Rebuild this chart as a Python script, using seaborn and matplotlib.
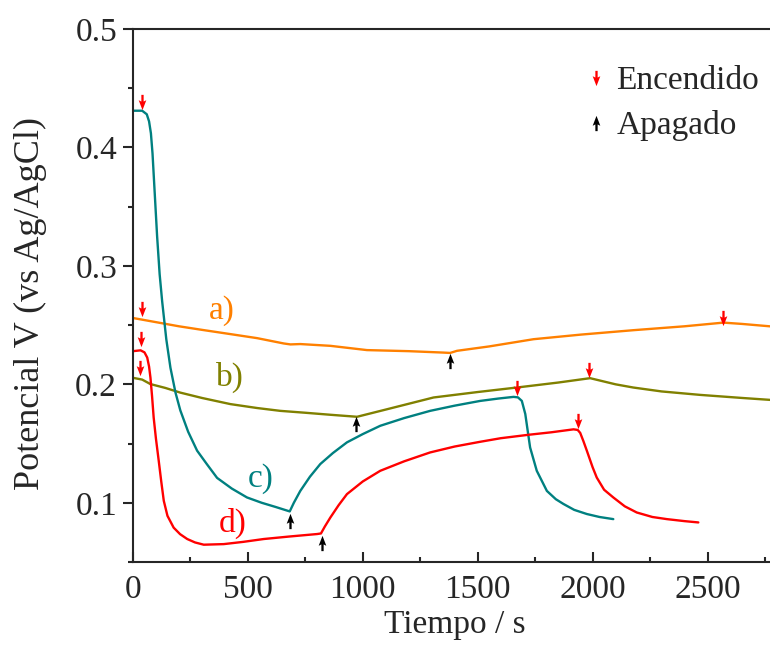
import numpy as np
import pandas as pd
import matplotlib
matplotlib.use("Agg")
import matplotlib.pyplot as plt
from matplotlib.path import Path
from matplotlib.lines import Line2D
import seaborn as sns

# ---------------- data ----------------
orange_t = [0, 100, 200, 300, 424, 540, 656, 685, 728, 859, 1018, 1200, 1351, 1380, 1410,
            1550, 1743, 1950, 2177, 2400, 2569, 2650, 2800]
orange_v = [0.256, 0.2525, 0.249, 0.246, 0.2424, 0.239, 0.2345, 0.2337, 0.234, 0.2325, 0.2289,
            0.228, 0.2268, 0.2265, 0.2283, 0.232, 0.2381, 0.242, 0.2457, 0.249, 0.2521, 0.251, 0.2485]

olive_t = [0, 40, 76, 140, 206, 300, 424, 540, 641, 750, 859, 975, 1100, 1308, 1500, 1670,
           1850, 1989, 2100, 2177, 2300, 2467, 2650, 2800]
olive_v = [0.2055, 0.204, 0.2002, 0.197, 0.193, 0.1885, 0.1833, 0.180, 0.1776, 0.176, 0.1743,
           0.1726, 0.1787, 0.1889, 0.1935, 0.1973, 0.2015, 0.2052, 0.200, 0.1973, 0.194, 0.1911,
           0.1885, 0.1865]

teal_t = [0, 40, 60, 70, 78, 85, 95, 105, 116, 127, 145, 163, 185, 206, 240, 279, 320, 366,
          430, 496, 560, 620, 682, 700, 728, 770, 815, 870, 931, 1000, 1076, 1180, 1293, 1400,
          1511, 1590, 1656, 1675, 1692, 1707, 1728, 1757, 1801, 1840, 1873, 1920, 1975, 2030, 2090]
teal_v = [0.431, 0.431, 0.428, 0.422, 0.412, 0.395, 0.36, 0.325, 0.293, 0.270, 0.238, 0.214,
          0.193, 0.178, 0.160, 0.144, 0.133, 0.121, 0.112, 0.1045, 0.100, 0.0965, 0.0927, 0.100,
          0.110, 0.122, 0.1327, 0.142, 0.151, 0.158, 0.165, 0.1715, 0.1776, 0.182, 0.186, 0.188,
          0.1894, 0.189, 0.186, 0.175, 0.1467, 0.127, 0.110, 0.103, 0.099, 0.094, 0.0905, 0.088,
          0.0862]

red_t = [0, 33, 50, 62, 70, 76, 83, 90, 100, 112, 123, 134, 150, 177, 205, 236, 270, 308, 395,
         480, 569, 680, 801, 818, 835, 859, 895, 931, 1000, 1076, 1180, 1293, 1400, 1511, 1600,
         1721, 1820, 1917, 1935, 1946, 1960, 1975, 2000, 2018, 2050, 2090, 2140, 2192, 2260,
         2323, 2400, 2460]
red_v = [0.228, 0.2287, 0.227, 0.2226, 0.215, 0.2057, 0.19, 0.172, 0.154, 0.1355, 0.118, 0.1017,
         0.089, 0.079, 0.0735, 0.0694, 0.0665, 0.0646, 0.0651, 0.067, 0.0694, 0.0715, 0.0736,
         0.0741, 0.080, 0.0876, 0.098, 0.1073, 0.118, 0.127, 0.135, 0.1425, 0.1475, 0.1515,
         0.1545, 0.1574, 0.1595, 0.162, 0.1615, 0.159, 0.152, 0.1439, 0.130, 0.1213, 0.111,
         0.1045, 0.097, 0.0918, 0.088, 0.0862, 0.0845, 0.0834]

# switching markers
enc_t = [40, 40, 33, 30, 1670, 1938, 1986, 2569]
enc_v = [0.438, 0.2637, 0.2384, 0.214, 0.1968, 0.169, 0.2122, 0.2557]
apa_t = [682, 822, 972, 1380]
apa_v = [0.0842, 0.0657, 0.1664, 0.220]

# curve labels
lab_text = ["a)", "b)", "c)", "d)"]
lab_t = [385, 420, 554, 433]
lab_v = [0.262, 0.2055, 0.120, 0.0822]

x_ticks = [0, 500, 1000, 1500, 2000, 2500]
y_ticks = [0.1, 0.2, 0.3, 0.4, 0.5]

# ---------------- style ----------------
sns.set_style("ticks")
plt.rcParams["font.family"] = ["Liberation Serif", "DejaVu Serif"]
plt.rcParams["axes.linewidth"] = 1.5

c_orange = "#FF8000"
c_olive = "#808000"
c_teal = "#008080"
c_red = "#FF0000"

FS = 24

def arrow_marker(up=False):
    verts = [(0, -1), (-0.5, 0.3), (-0.15, 0.12), (-0.15, 1.0), (0.15, 1.0),
             (0.15, 0.12), (0.5, 0.3), (0, -1)]
    if up:
        verts = [(x, -y) for x, y in verts]
    codes = [Path.MOVETO] + [Path.LINETO] * (len(verts) - 2) + [Path.CLOSEPOLY]
    return Path(verts, codes)

m_down = arrow_marker(False)
m_up = arrow_marker(True)
MS = 11

fig = plt.figure(figsize=(7.7, 6.56), dpi=100)
ax = fig.add_axes([0.1727, 0.1433, 1.0084 - 0.1727, 0.9558 - 0.1433])

series = [(orange_t, orange_v, c_orange), (olive_t, olive_v, c_olive),
          (teal_t, teal_v, c_teal), (red_t, red_v, c_red)]
for t, v, c in series:
    df = pd.DataFrame({"t": t, "v": v})
    sns.lineplot(data=df, x="t", y="v", ax=ax, color=c, linewidth=1.7, estimator=None)

df_enc = pd.DataFrame({"t": enc_t, "v": enc_v})
df_apa = pd.DataFrame({"t": apa_t, "v": apa_v})
ax.plot(df_enc["t"], df_enc["v"], linestyle="none", marker=m_down, color=c_red,
        markersize=MS, markeredgewidth=0)
ax.plot(df_apa["t"], df_apa["v"], linestyle="none", marker=m_up, color="black",
        markersize=MS, markeredgewidth=0)

for txt, t, v, (_, _, c) in zip(lab_text, lab_t, lab_v, series):
    ax.text(t, v, txt, color=c, fontsize=FS, ha="center", va="center")

ax.set_xlim(0, 2800)
ax.set_ylim(0.05, 0.5)
ax.set_xticks(x_ticks)
ax.set_xticks(np.arange(250, 2800, 500), minor=True)
ax.set_yticks(y_ticks)
ax.set_yticks([0.05, 0.15, 0.25, 0.35, 0.45], minor=True)
ax.set_yticklabels([f"{y:.1f}" for y in y_ticks])
ax.tick_params(axis="x", which="major", direction="in", length=7, width=1.5,
               labelsize=FS, pad=9)
ax.tick_params(axis="x", which="minor", direction="in", length=3.5, width=1.5)
ax.tick_params(axis="y", which="major", direction="out", length=7.5, width=1.5,
               labelsize=FS, pad=4)
ax.tick_params(axis="y", which="minor", direction="out", length=3.5, width=1.5)
for s in ["top", "right", "left", "bottom"]:
    ax.spines[s].set_visible(True)
    ax.spines[s].set_linewidth(1.5)

ax.set_xlabel("Tiempo / s", fontsize=FS, labelpad=3)
ax.set_ylabel("Potencial V (vs Ag/AgCl)", fontsize=26)
ax.yaxis.set_label_coords(-0.134, 0.485)

handles = [Line2D([], [], linestyle="none", marker=m_down, color=c_red, markersize=MS,
                  markeredgewidth=0),
           Line2D([], [], linestyle="none", marker=m_up, color="black", markersize=MS,
                  markeredgewidth=0)]
ax.legend(handles, ["Encendido", "Apagado"], loc="upper right",
          bbox_to_anchor=(1.012, 0.93), bbox_transform=fig.transFigure,
          frameon=False, fontsize=FS, handlelength=0.5, handletextpad=0.35,
          labelspacing=0.42, borderaxespad=0.2)

fig.savefig("out.png", dpi=100)
